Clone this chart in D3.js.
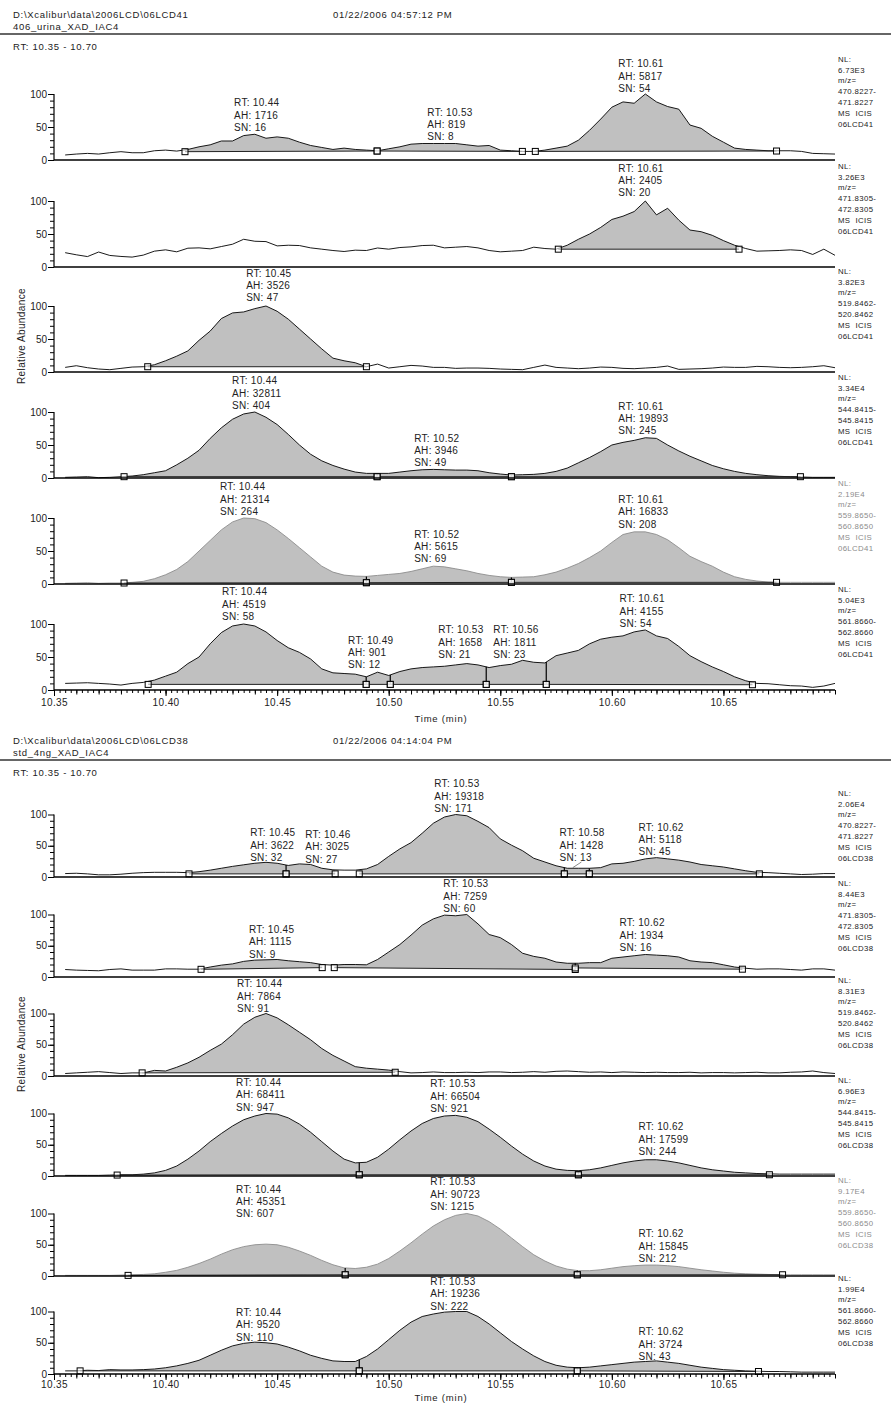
<!DOCTYPE html>
<html>
<head>
<meta charset="utf-8">
<script src="https://cdn.jsdelivr.net/npm/d3@7"></script>
<style>
  body { margin: 0; background: #fff; }
  text { font-family: "Liberation Sans", Arial, sans-serif; fill: #222; }
</style>
</head>
<body>
<script>
// scan times (min), shared by every trace
const scanTimes = [
  10.355, 10.360, 10.365, 10.370, 10.375, 10.380, 10.385, 10.390, 10.395, 10.400,
  10.405, 10.410, 10.415, 10.420, 10.425, 10.430, 10.435, 10.440, 10.445, 10.450,
  10.455, 10.460, 10.465, 10.470, 10.475, 10.480, 10.485, 10.490, 10.495, 10.500,
  10.505, 10.510, 10.515, 10.520, 10.525, 10.530, 10.535, 10.540, 10.545, 10.550,
  10.555, 10.560, 10.565, 10.570, 10.575, 10.580, 10.585, 10.590, 10.595, 10.600,
  10.605, 10.610, 10.615, 10.620, 10.625, 10.630, 10.635, 10.640, 10.645, 10.650,
  10.655, 10.660, 10.665, 10.670, 10.675, 10.680, 10.685, 10.690, 10.695, 10.700
];

const xTickValues = [10.35, 10.40, 10.45, 10.50, 10.55, 10.60, 10.65];
const xTickLabels = ["10.35", "10.40", "10.45", "10.50", "10.55", "10.60", "10.65"];
const yTickValues = [0, 50, 100];
const yTickLabels = ["0", "50", "100"];

const mzLow = ["470.8227", "471.8305", "519.8462", "544.8415", "559.8650", "561.8660"];
const mzHigh = ["471.8227", "472.8305", "520.8462", "545.8415", "560.8650", "562.8660"];

// ---------- file 06LCD41 (relative abundance, %) ----------
const nl41 = ["6.73E3", "3.26E3", "3.82E3", "3.34E4", "2.19E4", "5.04E3"];

const lcd41_470 = [
  7.6, 9, 10, 9, 11, 12.6, 11, 11, 14, 15,
  13.5, 16, 20, 23, 28.8, 28.8, 37, 39, 33, 35,
  33, 27, 22, 19, 16, 18, 16, 15, 14, 17,
  20, 24, 25, 25, 25, 25, 23, 21, 22, 15,
  14, 13, 13, 15, 18, 21, 30, 45, 62, 80,
  88, 86, 100, 88, 81, 77, 53, 48, 36, 27,
  18, 16, 15, 14, 14, 14, 13, 10, 9.5, 9
];
const lcd41_471 = [
  21.7, 18.5, 15.8, 22.7, 17.5, 16, 15, 18, 24, 26,
  23, 28.5, 29, 27.5, 31, 34.5, 42, 39, 38.5, 32,
  33, 32.5, 29, 27, 25, 23.5, 25.5, 25, 28.8, 27,
  29.5, 30.5, 32.5, 33, 29, 30, 31, 29, 25, 23,
  24, 25, 30, 28, 27, 33, 42, 50, 60, 72,
  77, 84, 100, 79, 89, 71, 56, 53.5, 48, 40,
  33, 28, 24, 24.5, 25, 26, 25, 19, 27, 17.7
];
const lcd41_519 = [
  7, 9.5, 6.5, 4.5, 3.5, 5.5, 7.5, 8, 11, 17,
  24, 32, 48, 62, 81, 89.5, 91, 96, 100, 92,
  80, 65, 50, 35, 21, 17, 14, 8, 12, 6,
  8, 10, 9, 7, 7, 5.5, 6, 6, 5.5, 4.5,
  4, 3.5, 7, 10.5, 7, 6, 5, 6, 7.5, 7,
  5.5, 5, 6, 7, 9, 4, 4.5, 5, 6, 7.5,
  7, 7, 8.5, 8, 7, 6.5, 7, 8, 9.5, 6.5
];
const lcd41_544 = [
  1, 1.5, 2, 0.5, 1, 2, 3, 5, 8, 11,
  20, 30, 42, 60, 76, 89, 97, 100, 92, 81,
  66, 50, 36, 26, 19, 13.5, 9, 7, 7, 7,
  9, 11, 12.5, 13, 12.5, 12, 12, 11, 8, 6,
  4.5, 5, 5.5, 7, 10, 15, 23, 31, 40, 50,
  54, 57, 61, 60, 50, 41, 33, 26, 19, 14,
  10, 7, 5, 3.5, 2.5, 2, 1.5, 1, 1, 1
];
const lcd41_559 = [
  1, 1.5, 2, 1, 1.5, 1.5, 2.5, 4, 8, 14,
  22, 34, 50, 66, 82, 94, 100, 99, 93, 82,
  69, 55, 41, 27, 18, 13.5, 12, 11.5, 13, 14.5,
  16, 19, 23, 27, 26, 23, 20, 16, 13, 11,
  10, 10.5, 11, 14, 18, 24, 31, 40, 50, 63,
  75, 79, 79, 75, 67, 55, 42, 34, 27, 18,
  11, 7, 4.5, 3, 2.5, 2.5, 2.5, 2.5, 2.5, 2.5
];
const lcd41_561 = [
  10, 10.5, 11, 10, 9, 7.5, 10, 11.5, 15, 21,
  27, 40, 50, 70, 87, 97, 100, 97, 88, 75,
  64, 57, 47, 32, 26, 25, 24, 20, 27, 22,
  28, 32, 34, 35, 36, 38, 40, 38, 34, 37,
  39, 45, 42, 41, 52, 56, 60, 70, 77, 80,
  82, 88, 91, 82, 78, 66, 52, 43, 35, 28,
  20, 14, 10, 9.5, 8, 6.5, 6, 4, 6, 10
];

// peaks: integration limits (t0, t1), baseline levels (b0, b1), label text and label anchor (lt, lv) in data units
const peaks41_470 = [
  { t0: 10.4087, t1: 10.4948, b0: 12.6, b1: 13.6, rt: "10.44", ah: "1716", sn: "16", lt: 10.4307, lv: 44 },
  { t0: 10.4948, t1: 10.5599, b0: 13.6, b1: 13, rt: "10.53", ah: "819", sn: "8", lt: 10.5173, lv: 30 },
  { t0: 10.5657, t1: 10.6738, b0: 13, b1: 13.6, rt: "10.61", ah: "5817", sn: "54", lt: 10.6029, lv: 103 }
];
const peaks41_471 = [
  { t0: 10.576, t1: 10.657, b0: 27, b1: 27, rt: "10.61", ah: "2405", sn: "20", lt: 10.6029, lv: 107 }
];
const peaks41_519 = [
  { t0: 10.392, t1: 10.490, b0: 8, b1: 8, rt: "10.45", ah: "3526", sn: "47", lt: 10.4361, lv: 107 }
];
const peaks41_544 = [
  { t0: 10.3814, t1: 10.4948, b0: 2, b1: 2, rt: "10.44", ah: "32811", sn: "404", lt: 10.4298, lv: 104.5 },
  { t0: 10.4948, t1: 10.555, b0: 2, b1: 2, rt: "10.52", ah: "3946", sn: "49", lt: 10.5114, lv: 18 },
  { t0: 10.555, t1: 10.6845, b0: 2, b1: 2, rt: "10.61", ah: "19893", sn: "245", lt: 10.6029, lv: 66 }
];
const peaks41_559 = [
  { t0: 10.3814, t1: 10.490, b0: 1.5, b1: 2, rt: "10.44", ah: "21314", sn: "264", lt: 10.4244, lv: 104.5 },
  { t0: 10.490, t1: 10.555, b0: 2, b1: 2.5, rt: "10.52", ah: "5615", sn: "69", lt: 10.5114, lv: 32.6 },
  { t0: 10.555, t1: 10.6738, b0: 2.5, b1: 2.5, rt: "10.61", ah: "16833", sn: "208", lt: 10.6029, lv: 85.6 }
];
const peaks41_561 = [
  { t0: 10.3922, t1: 10.4899, b0: 8.5, b1: 8.5, rt: "10.44", ah: "4519", sn: "58", lt: 10.4253, lv: 106 },
  { t0: 10.4899, t1: 10.5007, b0: 8.5, b1: 8.5, rt: "10.49", ah: "901", sn: "12", lt: 10.4818, lv: 32.6 },
  { t0: 10.5007, t1: 10.5437, b0: 8.5, b1: 8.5, rt: "10.53", ah: "1658", sn: "21", lt: 10.5222, lv: 48.5 },
  { t0: 10.5437, t1: 10.5706, b0: 8.5, b1: 8.5, rt: "10.56", ah: "1811", sn: "23", lt: 10.5469, lv: 48.5 },
  { t0: 10.5706, t1: 10.663, b0: 8.5, b1: 8, rt: "10.61", ah: "4155", sn: "54", lt: 10.6034, lv: 95.5 }
];

// ---------- file 06LCD38 ----------
const nl38 = ["2.06E4", "8.44E3", "8.31E3", "6.96E3", "9.17E4", "1.99E4"];

const lcd38_470 = [
  5.5, 6, 5, 3.5, 3.5, 4.5, 6, 7, 7.5, 7.5,
  7.5, 7, 8.5, 11, 14, 17, 19.5, 22, 23.5, 22,
  18.5, 21, 20, 14, 11.5, 11, 11, 13, 20, 33,
  45, 55, 70, 86, 96, 100, 98, 89, 79, 61,
  51, 42, 30, 24, 18, 14, 14, 14, 15, 21,
  22, 25, 29, 31, 29, 27, 24, 20, 18, 16,
  13, 10, 7.5, 7, 6, 5, 4, 4.5, 5.5, 5.5
];
const lcd38_471 = [
  12, 11, 10.5, 10, 12, 13, 11, 11, 11, 13,
  13, 12.5, 12.5, 16, 19, 21, 25, 27, 27.5, 28,
  26, 24.5, 23, 20, 19, 20, 20, 19.5, 28, 40,
  52, 67, 83, 93, 99, 98, 100, 85, 68, 63,
  52, 38, 33, 30, 24, 22, 22, 23, 23, 30,
  32, 34, 36, 35, 34, 32, 26, 24, 23, 19.5,
  16, 14, 12.5, 13, 13, 12, 11, 13, 13, 11
];
const lcd38_519 = [
  4, 5, 6, 7, 5.5, 4, 5, 5, 9, 8,
  14, 21, 30, 41, 51, 66, 83, 94, 100, 93,
  82, 70, 58, 44, 33, 24, 15, 12.5, 11, 9.5,
  7, 5, 5.5, 6.5, 5.5, 5.5, 6, 5.5, 6.5, 6.5,
  5.5, 6, 7, 6, 7.5, 8, 7, 6, 6.5, 5.5,
  6.5, 6, 5.5, 6, 5.5, 5.5, 6, 5, 5.5, 5.5,
  5, 5.5, 6, 5, 5, 6, 6.5, 8, 5.5, 4
];
const lcd38_544 = [
  1, 1, 1, 1, 1.5, 2, 2, 3, 5, 9,
  16, 27, 40, 55, 68, 80, 90, 96, 100, 99,
  93, 83, 70, 55, 40, 27, 21, 22, 30, 43,
  58, 72, 84, 92, 96, 97, 94, 87, 75, 62,
  48, 35, 24, 16, 11, 9, 8.5, 10, 13, 17,
  21, 24, 26, 26, 24, 21, 17, 13, 10, 8,
  6, 5, 4, 3.5, 3, 3, 3, 3, 3, 3
];
const lcd38_559 = [
  1, 1, 1, 1, 1, 1.5, 2, 2.5, 3.5, 6,
  9, 14, 20, 27, 35, 42, 47, 50, 51, 50,
  46, 40, 33, 25, 18, 13, 12, 14, 19, 28,
  40, 53, 67, 80, 90, 97, 100, 96, 87, 75,
  61, 47, 34, 24, 16, 11, 8.5, 8.5, 10, 12.5,
  15, 16.5, 17.5, 17.5, 16.5, 15, 12.5, 10, 8, 6,
  4.5, 3.5, 3, 2.5, 2, 2, 2, 2, 2, 2
];
const lcd38_561 = [
  5, 5, 6, 5.5, 7, 6.5, 6.5, 7, 8, 10,
  13, 17, 22, 30, 38, 45, 49, 51, 50, 48,
  43, 37, 30, 25, 21, 20, 20, 28, 40, 55,
  70, 83, 92, 96, 99, 100, 100, 92, 80, 66,
  52, 40, 29, 20, 14, 11, 10, 11, 13, 15,
  17, 19, 20, 21, 19, 17, 14, 11, 9, 7,
  6, 5, 4.5, 4, 4, 3.5, 3, 3, 3, 3
];

const peaks38_470 = [
  { t0: 10.4105, t1: 10.454, b0: 5, b1: 5, rt: "10.45", ah: "3622", sn: "32", lt: 10.4379, lv: 25.6 },
  { t0: 10.454, t1: 10.476, b0: 5, b1: 5, rt: "10.46", ah: "3025", sn: "27", lt: 10.4626, lv: 23.2 },
  { t0: 10.4868, t1: 10.5787, b0: 5, b1: 5, rt: "10.53", ah: "19318", sn: "171", lt: 10.5204, lv: 104 },
  { t0: 10.5787, t1: 10.5899, b0: 5, b1: 5, rt: "10.58", ah: "1428", sn: "13", lt: 10.5765, lv: 25.6, leader: [10.5825, 15] },
  { t0: 10.5899, t1: 10.6661, b0: 5, b1: 5, rt: "10.62", ah: "5118", sn: "45", lt: 10.6119, lv: 35 }
];
const peaks38_471 = [
  { t0: 10.4159, t1: 10.4702, b0: 12.3, b1: 15, rt: "10.45", ah: "1115", sn: "9", lt: 10.4374, lv: 31 },
  { t0: 10.4756, t1: 10.5836, b0: 15, b1: 12, rt: "10.53", ah: "7259", sn: "60", lt: 10.5244, lv: 104 },
  { t0: 10.5836, t1: 10.6585, b0: 14.5, b1: 12.5, rt: "10.62", ah: "1934", sn: "16", lt: 10.6034, lv: 41.6 }
];
const peaks38_519 = [
  { t0: 10.3895, t1: 10.5029, b0: 5, b1: 6, rt: "10.44", ah: "7864", sn: "91", lt: 10.432, lv: 102.4 }
];
const peaks38_544 = [
  { t0: 10.3783, t1: 10.4868, b0: 1.5, b1: 2, rt: "10.44", ah: "68411", sn: "947", lt: 10.4316, lv: 104.8 },
  { t0: 10.4868, t1: 10.585, b0: 2, b1: 2, rt: "10.53", ah: "66504", sn: "921", lt: 10.5186, lv: 102.4 },
  { t0: 10.585, t1: 10.6706, b0: 2, b1: 2, rt: "10.62", ah: "17599", sn: "244", lt: 10.6119, lv: 33.6 }
];
const peaks38_559 = [
  { t0: 10.3832, t1: 10.4805, b0: 1, b1: 2, rt: "10.44", ah: "45351", sn: "607", lt: 10.4316, lv: 94 },
  { t0: 10.4805, t1: 10.5845, b0: 2, b1: 2, rt: "10.53", ah: "90723", sn: "1215", lt: 10.5186, lv: 105.6 },
  { t0: 10.5845, t1: 10.6765, b0: 2, b1: 2, rt: "10.62", ah: "15845", sn: "212", lt: 10.6119, lv: 22.4 }
];
const peaks38_561 = [
  { t0: 10.3617, t1: 10.4868, b0: 5, b1: 5, rt: "10.44", ah: "9520", sn: "110", lt: 10.4316, lv: 53.6 },
  { t0: 10.4868, t1: 10.5845, b0: 5, b1: 5, rt: "10.53", ah: "19236", sn: "222", lt: 10.5186, lv: 103 },
  { t0: 10.5845, t1: 10.6657, b0: 5, b1: 4, rt: "10.62", ah: "3724", sn: "43", lt: 10.6119, lv: 22.4 }
];

// ---------- layout ----------
const W = 891, H = 1404;
const x = d3.scaleLinear().domain([10.35, 10.70]).range([54, 835]);

const svg = d3.select("body").append("svg")
  .attr("width", W).attr("height", H)
  .attr("viewBox", `0 0 ${W} ${H}`);

const sections = [
  {
    path: "D:\\Xcalibur\\data\\2006LCD\\06LCD41", sample: "406_urina_XAD_IAC4",
    date: "01/22/2006 04:57:12 PM", tag: "06LCD41",
    traces: [lcd41_470, lcd41_471, lcd41_519, lcd41_544, lcd41_559, lcd41_561],
    peaks: [peaks41_470, peaks41_471, peaks41_519, peaks41_544, peaks41_559, peaks41_561],
    nl: nl41,
    ruleY: 34, zeros: [160, 267, 372, 478, 584, 690], h: 66, nlOff: [101, 101, 101, 101, 101, 101],
    relY: 336, tickLabY: 9, timeY: 32
  },
  {
    path: "D:\\Xcalibur\\data\\2006LCD\\06LCD38", sample: "std_4ng_XAD_IAC4",
    date: "01/22/2006 04:14:04 PM", tag: "06LCD38",
    traces: [lcd38_470, lcd38_471, lcd38_519, lcd38_544, lcd38_559, lcd38_561],
    peaks: [peaks38_470, peaks38_471, peaks38_519, peaks38_544, peaks38_559, peaks38_561],
    nl: nl38,
    ruleY: 760, zeros: [877, 977, 1076, 1176, 1276, 1374], h: 62.5, nlOff: [84, 94, 96, 96, 96, 96],
    relY: 1044, tickLabY: 7, timeY: 27
  }
];

function valueAt(vals, t) {
  const i = d3.bisectLeft(scanTimes, t);
  if (i <= 0) return vals[0];
  if (i >= scanTimes.length) return vals[vals.length - 1];
  const ta = scanTimes[i - 1], tb = scanTimes[i];
  return vals[i - 1] + (vals[i] - vals[i - 1]) * (t - ta) / (tb - ta);
}

function drawSection(s) {
  const g = svg.append("g");

  // header
  g.append("text").attr("x", 13).attr("y", s.ruleY - 16)
    .style("font-size", "9.5px").style("letter-spacing", "0.7px").text(s.path);
  g.append("text").attr("x", 333).attr("y", s.ruleY - 16)
    .style("font-size", "9.5px").style("letter-spacing", "0.7px").text(s.date);
  g.append("text").attr("x", 13).attr("y", s.ruleY - 4.5)
    .style("font-size", "9.5px").style("letter-spacing", "0.7px").text(s.sample);
  g.append("line").attr("x1", 0).attr("x2", W).attr("y1", s.ruleY).attr("y2", s.ruleY)
    .attr("stroke", "#333").attr("stroke-width", 1.4);
  g.append("text").attr("x", 13).attr("y", s.ruleY + 16)
    .style("font-size", "9.5px").style("letter-spacing", "0.7px").text("RT: 10.35 - 10.70");

  // y title
  g.append("text")
    .attr("transform", `translate(24.5,${s.relY}) rotate(-90)`)
    .attr("text-anchor", "middle")
    .style("font-size", "10px").style("letter-spacing", "0.4px")
    .text("Relative Abundance");

  s.traces.forEach((vals, k) => {
    const y0 = s.zeros[k];
    const y = d3.scaleLinear().domain([0, 100]).range([y0, y0 - s.h]);
    const grey = k === 4;
    const traceColor = grey ? "#8c8c8c" : "#000";
    const pg = g.append("g");
    const peaks = s.peaks[k];

    // filled peak areas
    peaks.forEach(p => {
      const inner = scanTimes.filter(t => t > p.t0 && t < p.t1);
      const ts = [p.t0, ...inner, p.t1];
      const base = t => p.b0 + (p.b1 - p.b0) * (t - p.t0) / (p.t1 - p.t0);
      const area = d3.area()
        .x(t => x(t))
        .y0(t => y(base(t)))
        .y1(t => y(Math.max(valueAt(vals, t), base(t))));
      pg.append("path").attr("d", area(ts)).attr("fill", "#c0c0c0").attr("stroke", "none");
    });

    // trace
    const line = d3.line().x(d => x(d[0])).y(d => y(d[1]));
    pg.append("path").attr("d", line(scanTimes.map((t, i) => [t, vals[i]])))
      .attr("fill", "none").attr("stroke", traceColor).attr("stroke-width", 0.9)
      .attr("stroke-linejoin", "round");

    // baselines, drop lines, markers
    peaks.forEach(p => {
      pg.append("line")
        .attr("x1", x(p.t0)).attr("y1", y(p.b0)).attr("x2", x(p.t1)).attr("y2", y(p.b1))
        .attr("stroke", "#222").attr("stroke-width", 1);
      const shared = peaks.some(q => q !== p && Math.abs(q.t0 - p.t1) < 1e-6);
      if (shared) {
        pg.append("line")
          .attr("x1", x(p.t1)).attr("x2", x(p.t1))
          .attr("y1", y(valueAt(vals, p.t1))).attr("y2", y(p.b1))
          .attr("stroke", "#000").attr("stroke-width", 1.2);
      }
    });
    peaks.forEach(p => {
      [[p.t0, p.b0], [p.t1, p.b1]].forEach(([t, b]) => {
        pg.append("rect")
          .attr("x", x(t) - 3).attr("y", y(b) - 3)
          .attr("width", 6).attr("height", 6)
          .attr("fill", "#fff").attr("fill-opacity", 0.6)
          .attr("stroke", "#000").attr("stroke-width", 1);
      });
    });

    // axes
    pg.append("line").attr("x1", x(10.35)).attr("x2", x(10.70))
      .attr("y1", y0).attr("y2", y0).attr("stroke", "#000").attr("stroke-width", 1.5);
    const yAxis = d3.axisLeft(y).tickValues(yTickValues).tickSize(6)
      .tickFormat((d, i) => yTickLabels[i]);
    const ya = pg.append("g").attr("transform", `translate(${x(10.35)},0)`).call(yAxis);
    ya.select(".domain").remove();
    ya.selectAll("text").style("font-size", "10px").style("font-family", "'Liberation Sans', Arial, sans-serif")
      .attr("fill", "#222").attr("x", -7);
    const yMinor = d3.axisLeft(y).tickValues(d3.range(10, 100, 10)).tickSize(4).tickFormat("");
    const ym = pg.append("g").attr("transform", `translate(${x(10.35)},0)`).call(yMinor);
    ym.select(".domain").remove();
    pg.append("line").attr("x1", x(10.35)).attr("x2", x(10.35))
      .attr("y1", y(0)).attr("y2", y(100)).attr("stroke", "#000").attr("stroke-width", 1.2);

    // right side labels
    const lines = ["NL:", s.nl[k], "m/z=", mzLow[k] + "-", mzHigh[k], "MS  ICIS", s.tag];
    const rt = pg.append("text").attr("x", 838)
      .style("font-size", "7.8px").style("letter-spacing", "0.35px")
      .style("white-space", "pre")
      .style("fill", grey ? "#8c8c8c" : "#222");
    lines.forEach((l, i) => {
      rt.append("tspan").attr("x", 838).attr("y", y0 - s.nlOff[k] + 2.8 + i * 10.8).text(l);
    });

    // peak annotations
    peaks.forEach(p => {
      const lx = x(p.lt), ly = y(p.lv);
      const tx = pg.append("text").style("font-size", "10px").style("letter-spacing", "0.3px");
      ["RT: " + p.rt, "AH: " + p.ah, "SN: " + p.sn].forEach((l, i) => {
        tx.append("tspan").attr("x", lx).attr("y", ly - (2 - i) * 12.3).text(l);
      });
      if (p.leader) {
        pg.append("line")
          .attr("x1", lx + 22).attr("y1", ly + 1)
          .attr("x2", x(p.leader[0])).attr("y2", y(p.leader[1]))
          .attr("stroke", "#555").attr("stroke-width", 0.7);
      }
    });

    // time axis under the last panel
    if (k === s.traces.length - 1) {
      const xMinor = d3.axisBottom(x).tickValues(d3.range(0, 141).map(i => 10.35 + i * 0.0025))
        .tickSize(3).tickFormat("");
      const xm = pg.append("g").attr("transform", `translate(0,${y0})`).call(xMinor);
      xm.select(".domain").remove();
      const xMid = d3.axisBottom(x).tickValues(d3.range(0, 36).map(i => 10.35 + i * 0.01))
        .tickSize(4.5).tickFormat("");
      const xd = pg.append("g").attr("transform", `translate(0,${y0})`).call(xMid);
      xd.select(".domain").remove();
      const xAxis = d3.axisBottom(x).tickValues(xTickValues).tickSize(6)
        .tickFormat((d, i) => xTickLabels[i]);
      const xa = pg.append("g").attr("transform", `translate(0,${y0})`).call(xAxis);
      xa.select(".domain").remove();
      xa.selectAll("text").style("font-size", "10px").style("font-family", "'Liberation Sans', Arial, sans-serif")
        .attr("fill", "#222").attr("y", s.tickLabY).style("letter-spacing", "0.4px");
      pg.append("text").attr("x", 441).attr("y", y0 + s.timeY).attr("text-anchor", "middle")
        .style("font-size", "9.5px").style("letter-spacing", "0.8px").text("Time (min)");
    }
  });
}

sections.forEach(drawSection);
</script>
</body>
</html>
